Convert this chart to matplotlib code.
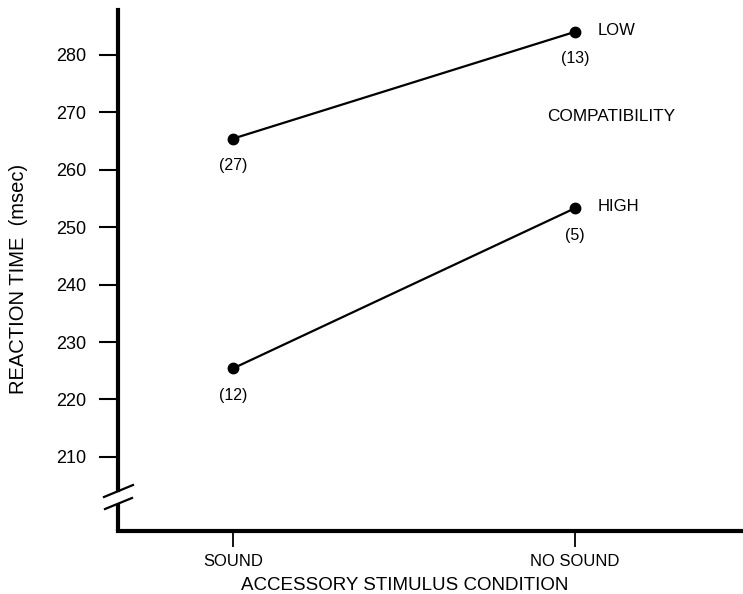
import matplotlib
matplotlib.use("Agg")
import matplotlib.pyplot as plt

plt.rcParams['font.family'] = ['Liberation Sans', 'DejaVu Sans']

# ---- data ----
conditions = ["SOUND", "NO SOUND"]
low_rt = [265.4, 284.0]
high_rt = [225.4, 253.3]
low_n = ["(27)", "(13)"]
high_n = ["(12)", "(5)"]
series_names = ["LOW", "HIGH"]
yticks = [210, 220, 230, 240, 250, 260, 270, 280]

W, H = 743, 594
fig = plt.figure(figsize=(W / 100, H / 100), dpi=100)
ax_left, ax_bottom, ax_top = 118, 531, 10
ax = fig.add_axes([ax_left / W, 1 - ax_bottom / H, 1 - ax_left / W, (ax_bottom - ax_top) / H])

x = list(range(len(conditions)))
ylo, yhi = 197.1, 287.8
ax.set_xlim(-0.336, 1.491)
ax.set_ylim(ylo, yhi)

for vals, ns, name in [(low_rt, low_n, series_names[0]), (high_rt, high_n, series_names[1])]:
    ax.plot(x, vals, color='black', lw=1.6, marker='o', ms=7.5, clip_on=False)
    for xi, v, n in zip(x, vals, ns):
        ax.annotate(n, (xi, v), xytext=(0, -19.5), textcoords='offset points',
                    ha='center', va='center', fontsize=11.5)
    ax.annotate(name, (x[-1], vals[-1]), xytext=(16.5, 1), textcoords='offset points',
                ha='left', va='center', fontsize=12)

ax.text(0.789, 0.795, "COMPATIBILITY", transform=ax.transAxes, ha='center', va='center', fontsize=12.4)

# spines
for s in ['top', 'right']:
    ax.spines[s].set_visible(False)
ax.spines['bottom'].set_linewidth(3)
ax.spines['left'].set_linewidth(3)
gap_top, gap_bot = 204.2, 201.8
ax.spines['left'].set_bounds(gap_top, yhi)
ax.plot([0, 0], [ylo, gap_bot], transform=ax.get_yaxis_transform(), color='black',
        lw=3, clip_on=False, solid_capstyle='butt')
# break slashes
axw, axh = W - ax_left, ax_bottom - ax_top
for (x0, y0, x1, y1) in [(104, 497, 133, 485), (105, 509, 132, 498)]:
    ax.plot([(x0 - ax_left) / axw, (x1 - ax_left) / axw],
            [(ax_bottom - y0) / axh, (ax_bottom - y1) / axh],
            transform=ax.transAxes, color='black', lw=1.6, clip_on=False)

ax.set_yticks(yticks)
ax.set_yticklabels([str(t) for t in yticks], fontsize=13)
ax.tick_params(axis='y', direction='out', length=14, width=1.5, pad=9)
ax.set_xticks(x)
ax.set_xticklabels(conditions, fontsize=12)
ax.tick_params(axis='x', direction='out', length=11.5, width=1.3, pad=5)

fig.text(405 / W, 1 - 585 / H, "ACCESSORY STIMULUS CONDITION", ha='center', va='center', fontsize=13.5)
fig.text(19 / W, 1 - 279 / H, "REACTION TIME  (msec)", ha='center', va='center',
         rotation=90, fontsize=14.5)

fig.savefig("out.png", dpi=100)
